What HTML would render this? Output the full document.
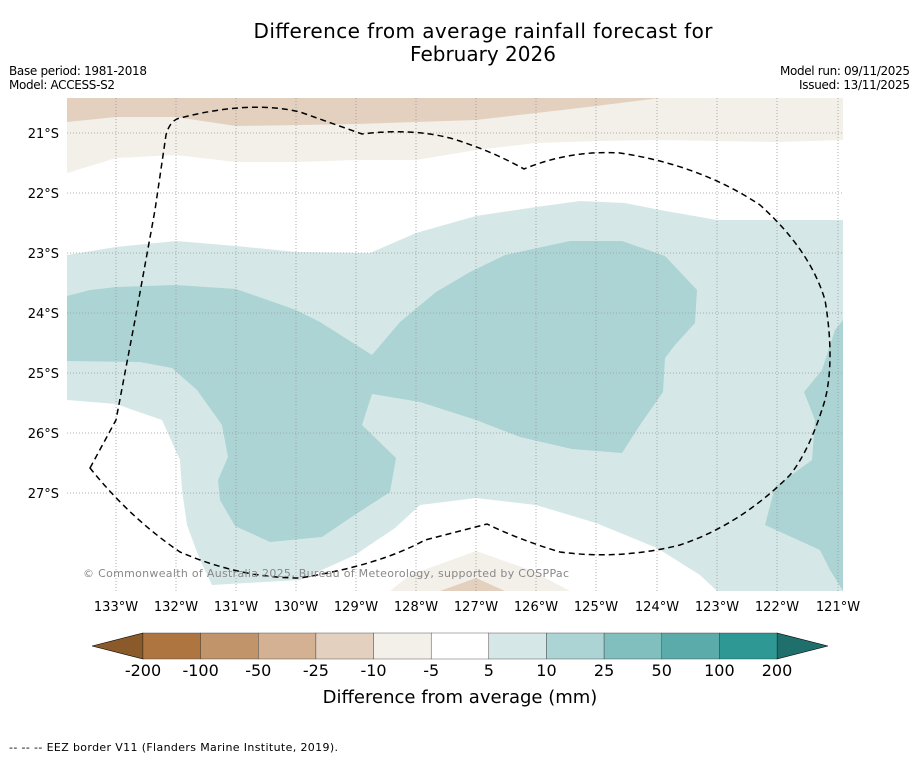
<!DOCTYPE html>
<html><head><meta charset="utf-8"><style>
body{margin:0;background:#fff;width:919px;height:758px;overflow:hidden;font-family:"DejaVu Sans",sans-serif}
</style></head><body>
<svg width="919" height="758" viewBox="0 0 919 758" xmlns="http://www.w3.org/2000/svg" font-family="DejaVu Sans, sans-serif">
<rect width="919" height="758" fill="#fff"/>
<text x="483" y="38" font-size="20" text-anchor="middle" textLength="459">Difference from average rainfall forecast for</text>
<text x="483" y="61" font-size="20" text-anchor="middle">February 2026</text>
<text x="9" y="75" font-size="12" textLength="138">Base period: 1981-2018</text>
<text x="9" y="89" font-size="12" textLength="106">Model: ACCESS-S2</text>
<text x="910" y="75" font-size="12" text-anchor="end" textLength="130">Model run: 09/11/2025</text>
<text x="910" y="89" font-size="12" text-anchor="end" textLength="111">Issued: 13/11/2025</text>
<defs><clipPath id="mc"><rect x="67" y="98" width="776" height="493"/></clipPath></defs>
<g clip-path="url(#mc)">
<polygon fill="#f3efe9" points="67,98 843,98 843,140 777,142 660,140 596,141 536,143 476,150 416,160 356,160 296,162 236,162 176,155 116,158 67,173"/>
<polygon fill="#e3d0bf" points="67,98 660,98 596,106 476,120 356,124 236,126 176,117 116,117 67,122"/>
<polygon fill="#d5e8e7" points="67,255 116,247 176,241 236,246 296,252 370,253 416,233 476,216 536,207 580,201 625,203 660,210 717,220 843,220 843,591 717,591 700,575 657,548 596,523 536,505 476,498 420,505 395,528 355,555 300,580 212,585 200,560 187,525 182,490 180,460 162,420 116,404 67,400"/>
<polygon fill="#acd4d4" points="67,296 90,290 116,287 176,285 236,289 296,310 320,322 372,355 400,322 436,292 470,272 505,255 570,241 622,241 665,256 697,290 695,323 675,345 665,358 663,392 640,425 622,453 572,449 520,437 476,420 420,402 372,394 362,425 396,458 390,492 350,518 322,537 270,542 235,526 220,500 218,480 228,457 222,425 197,390 172,368 140,362 67,361"/>
<polygon fill="#acd4d4" points="843,320 835,330 822,370 804,392 815,420 812,460 775,487 765,525 820,550 830,570 843,591"/>
<polygon fill="#f3efe9" points="390,591 410,575 476,551 530,570 570,591"/>
<polygon fill="#e3d0bf" points="440,591 476,578 505,591"/>
<g stroke="#999" stroke-width="0.8" stroke-dasharray="1,2">
<line x1="116" y1="98" x2="116" y2="591"/><line x1="176" y1="98" x2="176" y2="591"/><line x1="236" y1="98" x2="236" y2="591"/><line x1="296" y1="98" x2="296" y2="591"/><line x1="356" y1="98" x2="356" y2="591"/><line x1="416" y1="98" x2="416" y2="591"/><line x1="476" y1="98" x2="476" y2="591"/><line x1="536" y1="98" x2="536" y2="591"/><line x1="596" y1="98" x2="596" y2="591"/><line x1="657" y1="98" x2="657" y2="591"/><line x1="717" y1="98" x2="717" y2="591"/><line x1="777" y1="98" x2="777" y2="591"/><line x1="838" y1="98" x2="838" y2="591"/>
<line x1="67" y1="133" x2="843" y2="133"/><line x1="67" y1="193" x2="843" y2="193"/><line x1="67" y1="253" x2="843" y2="253"/><line x1="67" y1="313" x2="843" y2="313"/><line x1="67" y1="373" x2="843" y2="373"/><line x1="67" y1="433" x2="843" y2="433"/><line x1="67" y1="493" x2="843" y2="493"/>
</g>
<path fill="none" stroke="#000" stroke-width="1.5" stroke-dasharray="6,4" d="M90,468 L116,420 L135,320 L155,210 L166,135 Q170,120 180,118 Q250,100 300,112 L362,134 Q410,128 450,138 Q490,150 524,169 Q570,150 620,153 Q700,165 760,205 Q810,250 825,300 Q835,360 825,400 Q810,450 790,475 Q740,525 680,545 Q620,560 560,552 Q520,540 487,524 L425,540 Q380,565 300,578 Q240,578 180,552 Q130,518 90,468 Z"/>
<text x="83" y="577" font-size="11" fill="#888" textLength="486">© Commonwealth of Australia 2025, Bureau of Meteorology, supported by COSPPac</text>
</g>
<g font-size="13" text-anchor="end">
<text x="59" y="138">21°S</text><text x="59" y="198">22°S</text><text x="59" y="258">23°S</text><text x="59" y="318">24°S</text><text x="59" y="378">25°S</text><text x="59" y="438">26°S</text><text x="59" y="498">27°S</text>
</g>
<g font-size="13" text-anchor="middle">
<text x="116" y="611">133°W</text><text x="176" y="611">132°W</text><text x="236" y="611">131°W</text><text x="296" y="611">130°W</text><text x="356" y="611">129°W</text><text x="416" y="611">128°W</text><text x="476" y="611">127°W</text><text x="536" y="611">126°W</text><text x="596" y="611">125°W</text><text x="657" y="611">124°W</text><text x="717" y="611">123°W</text><text x="777" y="611">122°W</text><text x="838" y="611">121°W</text>
</g>
<g id="cbar"></g>
<text x="460" y="703" font-size="18" text-anchor="middle">Difference from average (mm)</text>
<text x="9" y="751" font-size="11" textLength="329">--  --  -- EEZ border V11 (Flanders Marine Institute, 2019).</text>
</svg>
<script>
const cbLabels=["-200","-100","-50","-25","-10","-5","5","10","25","50","100","200"];
const cbColors=["#ae7540","#c1946a","#d4b193","#e3d0bf","#f3efe9","#ffffff","#d5e8e7","#acd4d4","#80bfbd","#5aabaa","#2e9894"];
const cbLow="#8b5a2b", cbHigh="#1f6f6c";
const ns="http://www.w3.org/2000/svg";
const g=document.getElementById('cbar');
const x0=143,x1=777,y0=633,h=26,n=cbColors.length,w=(x1-x0)/n;
function add(tag,attrs){const e=document.createElementNS(ns,tag);for(const k in attrs)e.setAttribute(k,attrs[k]);g.appendChild(e);return e;}
let t=add('polygon',{points:`${x0},${y0} ${x0},${y0+h} 92,${y0+h/2}`,fill:cbLow,stroke:'#000','stroke-width':0.6});


t=add('polygon',{points:`${x1},${y0} ${x1},${y0+h} 828,${y0+h/2}`,fill:cbHigh,stroke:'#000','stroke-width':0.6});


cbColors.forEach((c,i)=>{const r=add('rect',{x:x0+i*w,y:y0,width:w,height:h,fill:c,stroke:'#333','stroke-width':0.4});

});
cbLabels.forEach((l,i)=>{const e=add('text',{x:x0+i*w,y:676,'font-size':16,'text-anchor':'middle'});e.textContent=l;

});
</script>
</body></html>
